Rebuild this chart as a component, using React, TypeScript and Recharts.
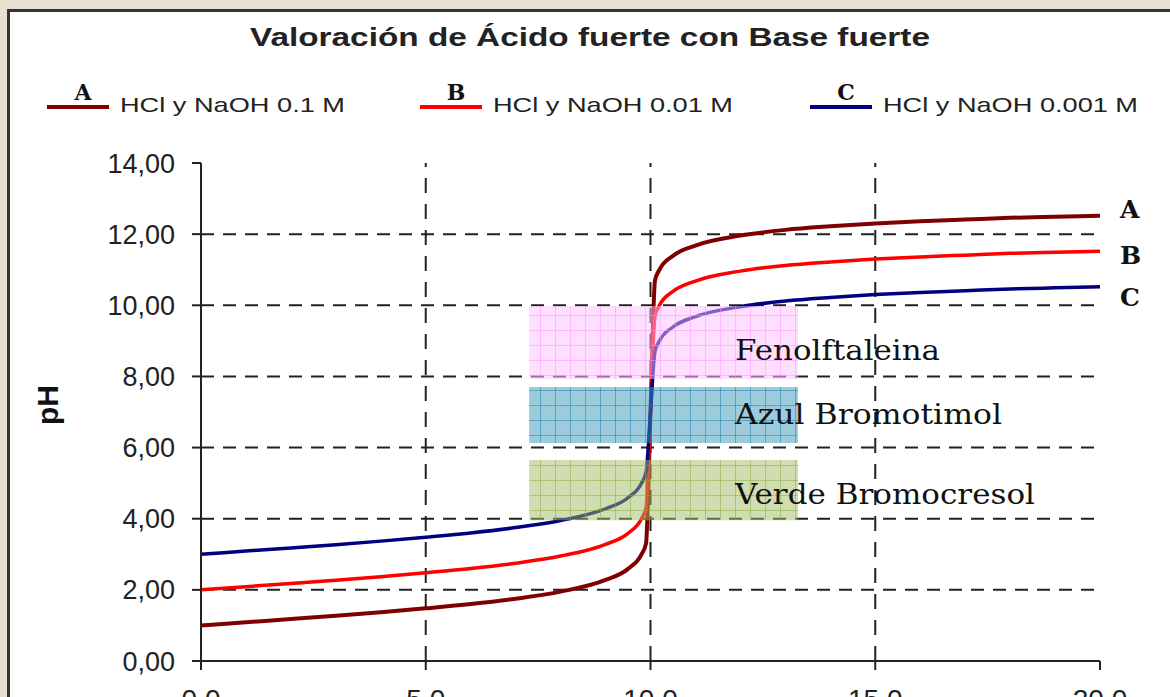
import {
  LineChart,
  Line,
  XAxis,
  YAxis,
  ReferenceArea,
  ReferenceLine,
  ReferenceDot,
  Legend
} from 'recharts'

// volumen de base añadido (mL)
const volume = [0, 1, 2, 3, 4, 5, 6, 7, 8, 9, 9.5, 9.8, 9.9, 10, 10.1, 10.2, 10.5, 11, 12, 13, 14, 15, 16, 17, 18, 19, 20]
const phA = [1.0, 1.09, 1.18, 1.27, 1.37, 1.48, 1.6, 1.75, 1.95, 2.28, 2.59, 3.0, 3.3, 7.0, 10.7, 11.0, 11.39, 11.68, 11.96, 12.12, 12.22, 12.3, 12.36, 12.41, 12.46, 12.49, 12.52]
const phB = [2.0, 2.09, 2.18, 2.27, 2.37, 2.48, 2.6, 2.75, 2.95, 3.28, 3.59, 4.0, 4.3, 7.0, 9.7, 10.0, 10.39, 10.68, 10.96, 11.12, 11.22, 11.3, 11.36, 11.41, 11.46, 11.49, 11.52]
const phC = [3.0, 3.09, 3.18, 3.27, 3.37, 3.48, 3.6, 3.75, 3.95, 4.28, 4.59, 5.0, 5.3, 7.0, 8.7, 9.0, 9.39, 9.68, 9.96, 10.12, 10.22, 10.3, 10.36, 10.41, 10.46, 10.49, 10.52]

const seriesKeys = ['A', 'B', 'C']
const seriesNames = ['HCl y NaOH 0.1 M', 'HCl y NaOH 0.01 M', 'HCl y NaOH 0.001 M']
const seriesColors = ['#800000', '#ff0000', '#000080']
const endLabelPh = [12.68, 11.41, 10.23]

const yTicks = [0, 2, 4, 6, 8, 10, 12, 14]
const xTicks = [0, 5, 10, 15, 20]
const gridY = [2, 4, 6, 8, 10, 12]
const gridX = [5, 10, 15]

// zonas de viraje de los indicadores
const indicatorNames = ['Fenolftaleina', 'Azul Bromotimol', 'Verde Bromocresol']
const indicatorLow = [7.93, 6.13, 3.96]
const indicatorHigh = [9.98, 7.7, 5.65]
const indicatorLabelPh = [8.72, 6.94, 4.69]
const indicatorPatterns = ['patPink', 'patBlue', 'patGreen']
const bandFrom = 7.3
const bandTo = 13.28
const indicatorLabelX = 11.88

const data = volume.map((v, i) => ({ v, A: phA[i], B: phB[i], C: phC[i] }))

const legendX = [47, 420, 810]
const legendTextW = [225, 240, 255]
const indicatorTextW = [205, 267, 300]

const LegendContent = () => (
  <svg width={1170} height={60}>
    {seriesKeys.map((k, i) => (
      <g key={k}>
        <rect x={legendX[i]} y={35} width={62} height={4} fill={seriesColors[i]} />
        <text
          x={legendX[i] + 36}
          y={30}
          textAnchor='middle'
          fontFamily='DejaVu Serif'
          fontWeight='bold'
          fontSize={22}
          fill='#111'
        >
          {k}
        </text>
        <text
          x={legendX[i] + 73}
          y={42}
          fontFamily='Liberation Sans'
          fontSize={21}
          fill='#222'
          textLength={legendTextW[i]}
          lengthAdjust='spacingAndGlyphs'
        >
          {seriesNames[i]}
        </text>
      </g>
    ))}
  </svg>
)

const fmtY = (v: number) => v.toFixed(2).replace('.', ',')
const fmtX = (v: number) => v.toFixed(1).replace('.', ',')

export default function App() {
  return (
    <div style={{ position: 'fixed', left: 0, top: 0, width: 1170, height: 697, background: '#e6dfd2', overflow: 'hidden' }}>
      <div
        style={{
          position: 'absolute',
          left: 7,
          top: 9,
          width: 1180,
          height: 700,
          background: '#fff',
          border: '3px solid #333'
        }}
      />
      <svg width={1170} height={60} style={{ position: 'absolute', left: 0, top: 0 }}>
        <text
          x={590}
          y={46}
          textAnchor='middle'
          fontFamily='Liberation Sans'
          fontWeight='bold'
          fontSize={26}
          fill='#222'
          textLength={680}
          lengthAdjust='spacingAndGlyphs'
        >
          Valoración de Ácido fuerte con Base fuerte
        </text>
      </svg>
      <div style={{ position: 'absolute', left: 0, top: 0 }}>
        <LineChart width={1170} height={697} data={data} margin={{ top: 163, right: 70, left: 0, bottom: 0 }}>
          <defs>
            <pattern id='patPink' width={15} height={15} patternUnits='userSpaceOnUse'>
              <rect width={15} height={15} fill='#ffc0ff' fillOpacity={0.5} />
              <path d='M0 0.5H15M0.5 0V15' stroke='#ff90ff' strokeOpacity={0.5} strokeWidth={1} />
            </pattern>
            <pattern id='patBlue' width={15} height={15} patternUnits='userSpaceOnUse'>
              <rect width={15} height={15} fill='#3997b7' fillOpacity={0.5} />
              <path d='M0 0.5H15M0.5 0V15' stroke='#1a7fb0' strokeOpacity={0.5} strokeWidth={1} />
            </pattern>
            <pattern id='patGreen' width={15} height={15} patternUnits='userSpaceOnUse'>
              <rect width={15} height={15} fill='#a1bb61' fillOpacity={0.5} />
              <path d='M0 0.5H15M0.5 0V15' stroke='#8aa840' strokeOpacity={0.5} strokeWidth={1} />
            </pattern>
          </defs>
          <XAxis
            dataKey='v'
            type='number'
            domain={[0, 20]}
            ticks={xTicks}
            tickFormatter={fmtX}
            height={36}
            tickSize={9}
            tickMargin={19}
            axisLine={{ stroke: '#222', strokeWidth: 2 }}
            tickLine={{ stroke: '#222', strokeWidth: 2 }}
            tick={{ fontSize: 28, fill: '#222', fontFamily: 'Liberation Sans' }}
          />
          <YAxis
            type='number'
            domain={[0, 14]}
            ticks={yTicks}
            tickFormatter={fmtY}
            width={201}
            tickSize={9}
            tickMargin={17}
            axisLine={{ stroke: '#222', strokeWidth: 2 }}
            tickLine={{ stroke: '#222', strokeWidth: 2 }}
            tick={{ fontSize: 27, fill: '#222', fontFamily: 'Liberation Sans' }}
            label={{
              content: ({ viewBox }: any) => (
                <text
                  transform={`translate(${viewBox.x + 47}, ${viewBox.y + viewBox.height / 2 - 7}) rotate(-90)`}
                  textAnchor='middle'
                  dominantBaseline='central'
                  fontFamily='Liberation Sans'
                  fontWeight='bold'
                  fontSize={30}
                  fill='#111'
                >
                  pH
                </text>
              )
            }}
          />
          {gridY.map(g => (
            <ReferenceLine key={'gy' + g} y={g} stroke='#222' strokeWidth={2} strokeDasharray='13 9' zIndex={-100} />
          ))}
          {gridX.map(g => (
            <ReferenceLine key={'gx' + g} x={g} stroke='#222' strokeWidth={2} strokeDasharray='15 11' zIndex={-100} />
          ))}
          <Legend
            layout='horizontal'
            verticalAlign='middle'
            align='center'
            wrapperStyle={{ top: 70, left: 0, width: 1170, height: 60 }}
            content={<LegendContent />}
          />
          {seriesKeys.map((k, i) => (
            <Line
              key={k}
              type='monotone'
              dataKey={k}
              name={seriesNames[i]}
              stroke={seriesColors[i]}
              strokeWidth={i === 0 ? 4 : 3.5}
              dot={false}
              isAnimationActive={false}
            />
          ))}
          {indicatorNames.map((n, i) => (
            <ReferenceArea
              key={n}
              x1={bandFrom}
              x2={bandTo}
              y1={indicatorLow[i]}
              y2={indicatorHigh[i]}
              fill={`url(#${indicatorPatterns[i]})`}
              fillOpacity={1}
              stroke='none'
              zIndex={450}
            />
          ))}
          {indicatorNames.map((n, i) => (
            <ReferenceDot
              key={'lbl' + n}
              x={indicatorLabelX}
              y={indicatorLabelPh[i]}
              zIndex={2000}
              shape={(p: any) => (
                <text
                  x={p.cx}
                  y={p.cy}
                  dominantBaseline='central'
                  fontFamily='DejaVu Serif'
                  fontSize={27}
                  fill='#111'
                  textLength={indicatorTextW[i]}
                  lengthAdjust='spacingAndGlyphs'
                >
                  {n}
                </text>
              )}
            />
          ))}
          {seriesKeys.map((k, i) => (
            <ReferenceDot
              key={'end' + k}
              x={20}
              y={endLabelPh[i]}
              zIndex={2000}
              shape={(p: any) => (
                <text
                  x={p.cx + 20}
                  y={p.cy}
                  dominantBaseline='central'
                  fontFamily='DejaVu Serif'
                  fontWeight='bold'
                  fontSize={25}
                  fill='#111'
                >
                  {k}
                </text>
              )}
            />
          ))}
        </LineChart>
      </div>
    </div>
  )
}
